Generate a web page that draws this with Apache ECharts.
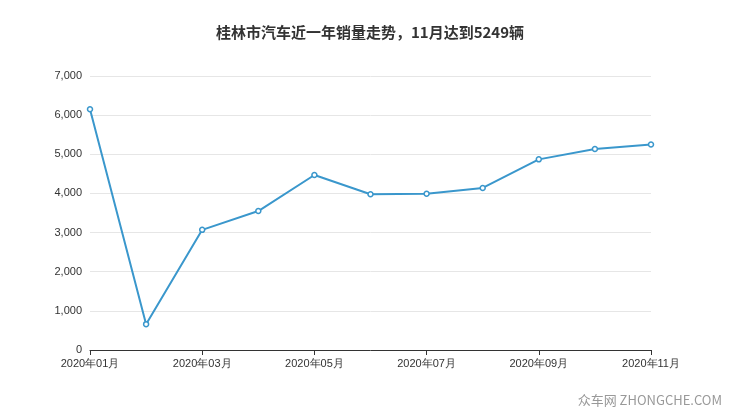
<!DOCTYPE html>
<html><head><meta charset="utf-8">
<script src="https://cdn.jsdelivr.net/npm/echarts@6/dist/echarts.min.js"></script>
<style>body{margin:0}#c{width:740px;height:417px}</style></head>
<body><div id="c"></div>
<script>
const categories=['2020年01月','2020年02月','2020年03月','2020年04月','2020年05月','2020年06月','2020年07月','2020年08月','2020年09月','2020年10月','2020年11月'];
const sales=[6150,660,3070,3550,4470,3980,3990,4140,4870,5135,5249];
const chart=echarts.init(document.getElementById('c'));
chart.setOption({
 animation:false,
 title:{text:'桂林市汽车近一年销量走势，11月达到5249辆',left:'center',top:20,textStyle:{fontSize:15,fontWeight:'bold',color:'#333',fontFamily:'Noto Sans CJK SC'}},
 graphic:[{type:'text',right:18,bottom:10,style:{text:'众车网 ZHONGCHE.COM',fill:'#999',fontSize:13,fontFamily:'Noto Sans CJK SC'}}],
 grid:{left:90,right:89,top:76,bottom:67},
 xAxis:{type:'category',data:categories,boundaryGap:false,
  axisLine:{lineStyle:{color:'#333'}},axisTick:{interval:1,lineStyle:{color:'#333'}},
  axisLabel:{interval:1,color:'#333',fontSize:11}},
 yAxis:{type:'value',min:0,max:7000,interval:1000,axisLine:{show:false},axisTick:{show:false},
  axisLabel:{color:'#333',fontSize:11,formatter:v=>v.toLocaleString('en-US')},
  splitLine:{lineStyle:{color:'#e6e6e6'}}},
 series:[{type:'line',data:sales,symbol:'circle',symbolSize:5,
  lineStyle:{color:'#3a97cc',width:2},itemStyle:{color:'#fff',borderColor:'#3a97cc',borderWidth:1.5}}]
});
</script></body></html>
